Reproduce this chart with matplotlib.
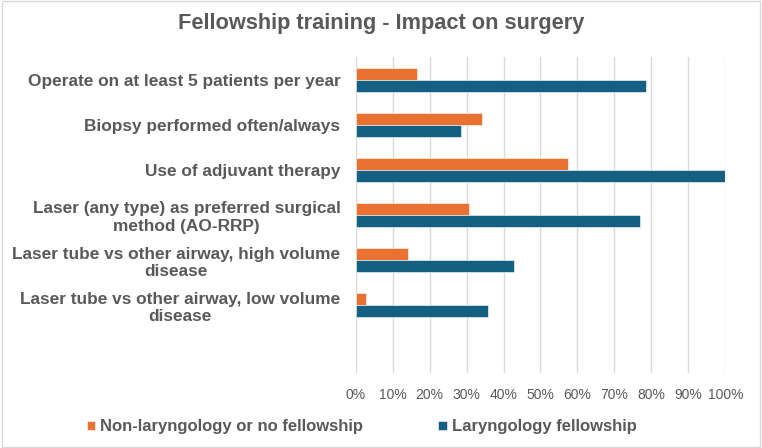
import matplotlib.pyplot as plt
from matplotlib.patches import Rectangle

# данные с графика
categories = [
    "Operate on at least 5 patients per year",
    "Biopsy performed often/always",
    "Use of adjuvant therapy",
    "Laser (any type) as preferred surgical\nmethod (AO-RRP)",
    "Laser tube vs other airway, high volume\ndisease",
    "Laser tube vs other airway, low volume\ndisease",
]
non_laryngology = [16.6, 34.2, 57.5, 30.7, 14.2, 2.8]
laryngology = [78.5, 28.5, 100.0, 76.9, 42.8, 35.7]
series_names = ["Non-laryngology or no fellowship", "Laryngology fellowship"]
x_ticks = [0, 10, 20, 30, 40, 50, 60, 70, 80, 90, 100]

orange = "#E97132"
blue = "#156082"
gray = "#595959"

plt.rcParams["font.family"] = ["Liberation Sans", "DejaVu Sans"]

fig = plt.figure(figsize=(7.62, 4.48), dpi=100)
ax = fig.add_axes([0.4668, 0.1674, 0.485, 0.7054])

h = 0.265
pos = list(range(len(categories)))
ax.barh([p - h / 2 for p in pos], non_laryngology, height=h, color=orange,
        edgecolor="white", linewidth=0.4, label=series_names[0], zorder=3)
ax.barh([p + h / 2 for p in pos], laryngology, height=h, color=blue,
        edgecolor="white", linewidth=0.4, label=series_names[1], zorder=3)

# пустой слот снизу, как в оригинале
ax.set_ylim(len(categories) + 0.5, -0.5)
ax.set_xlim(0, 100)

ax.set_yticks(pos)
ax.set_yticklabels(categories, fontsize=12.45, fontweight="bold", color=gray)
for lbl in ax.get_yticklabels():
    lbl.set_multialignment("center")
ax.tick_params(axis="y", length=0, pad=11)

ax.set_xticks(x_ticks)
ax.set_xticklabels([f"{t}%" for t in x_ticks], fontsize=10, color=gray)
ax.tick_params(axis="x", length=0, pad=11)

ax.grid(axis="x", color="#d9d9d9", linewidth=1, zorder=0)
for s in ax.spines.values():
    s.set_visible(False)

fig.suptitle("Fellowship training - Impact on surgery", x=0.5, y=0.972,
             fontsize=15.7, fontweight="bold", color=gray)

leg = fig.legend(loc="center left", bbox_to_anchor=(0.0945, 0.047), ncol=2,
                 frameon=False, handlelength=0.5, handleheight=0.5,
                 handletextpad=0.3, columnspacing=4.5,
                 prop={"size": 12, "weight": "bold"})
for t in leg.get_texts():
    t.set_color(gray)

# рамка вокруг диаграммы
fig.patches.append(Rectangle((0.002, 0.002), 0.996, 0.996, transform=fig.transFigure,
                             fill=False, edgecolor="#d9d9d9", linewidth=1))

fig.savefig("out.png", dpi=100)
